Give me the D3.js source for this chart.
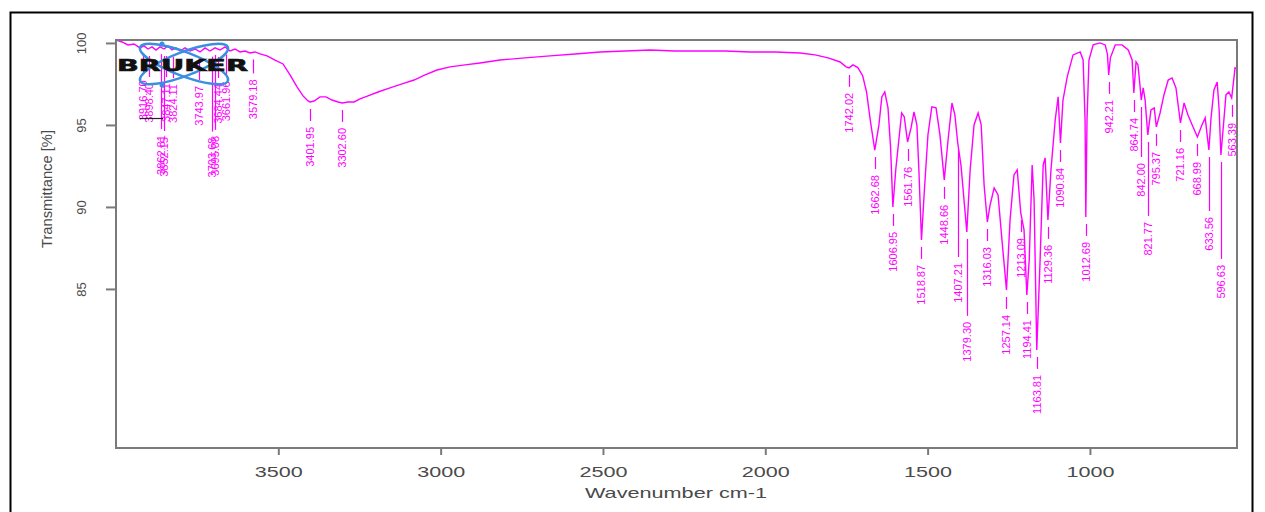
<!DOCTYPE html>
<html>
<head>
<meta charset="utf-8">
<script src="https://cdn.jsdelivr.net/npm/d3@7"></script>
<style>
  body { margin: 0; background: #fff; }
  svg { display: block; font-family: "Liberation Sans", Arial, sans-serif; }
</style>
</head>
<body>
<div id="chart"></div>
<script>
// IR spectrum: wavenumber (cm-1) and transmittance (%)
const wavenumber = [
  4000, 3981.5, 3963, 3944.5, 3926.1, 3913.7, 3901.4, 3889.1, 3876.8, 3864.4, 3852.1, 3839.8,
  3827.5, 3815.2, 3802.8, 3787.4, 3772, 3756.6, 3741.2, 3725.8, 3710.4, 3695, 3679.6, 3664.2,
  3648.8, 3633.4, 3618, 3602.6, 3587.2, 3571.8, 3556.4, 3534.8, 3510.2, 3485.5, 3464, 3442.4,
  3423.9, 3408.5, 3402, 3390, 3371.5, 3353, 3334.6, 3316.1, 3302.6, 3285.3, 3266.8, 3248.3,
  3223.7, 3192.9, 3156, 3118.9, 3081.9, 3048.1, 3011.1, 2971, 2924.8, 2878.6, 2817, 2740,
  2663, 2585.9, 2508.9, 2431.9, 2354.9, 2277.9, 2200.9, 2123.9, 2046.8, 1969.8, 1892.8, 1846.6,
  1806.6, 1769.6, 1751.1, 1742, 1730, 1715, 1700, 1688, 1676, 1662.7, 1650, 1641,
  1632, 1622, 1614, 1607, 1598, 1580, 1572, 1561.8, 1551, 1542, 1533, 1527,
  1518.9, 1510, 1499, 1487, 1474, 1462, 1448.7, 1437, 1425, 1416, 1407.2, 1397,
  1379.3, 1369, 1357, 1344.5, 1335, 1326, 1316, 1307.5, 1295, 1283, 1271, 1257.1,
  1246, 1234, 1224, 1213.1, 1203, 1194.4, 1187, 1178, 1172, 1163.8, 1153.5, 1144,
  1138, 1129.4, 1120, 1107, 1098, 1090.8, 1083, 1070, 1052, 1030, 1021, 1015,
  1012.7, 1009, 1003, 990, 969, 953, 946, 942.2, 937, 922, 901, 882,
  870, 864.7, 858, 852, 846, 842, 836, 830, 821.8, 812, 802, 795.4,
  784, 772, 759, 747, 735, 721.2, 710, 698, 685, 669, 655, 645,
  633.6, 627, 618, 608, 602, 596.6, 590, 581, 572, 563.4, 553, 547
];
const transmittance = [
  100.18, 100.06, 99.88, 99.94, 99.7, 99.82, 99.63, 99.76, 99.57, 99.76, 99.63, 99.82,
  99.57, 99.7, 99.51, 99.7, 99.51, 99.63, 99.45, 99.7, 99.51, 99.7, 99.57, 99.76,
  99.51, 99.63, 99.45, 99.51, 99.39, 99.45, 99.33, 99.21, 98.96, 98.72, 98.05, 97.32,
  96.77, 96.46, 96.4, 96.46, 96.71, 96.71, 96.52, 96.4, 96.34, 96.4, 96.4, 96.59,
  96.77, 97.01, 97.26, 97.5, 97.74, 98.05, 98.35, 98.54, 98.66, 98.78, 98.96, 99.09,
  99.21, 99.33, 99.45, 99.51, 99.57, 99.51, 99.51, 99.51, 99.45, 99.45, 99.39, 99.27,
  99.09, 98.84, 98.54, 98.48, 98.66, 98.5, 98.0, 97.0, 95.2, 93.47, 95.0, 96.71,
  97.01, 96.04, 93.6, 90.0, 92.3, 95.73, 95.5, 93.96, 94.82, 95.79, 95.0, 92.3,
  87.99, 91.0, 94.39, 96.1, 96.04, 94.39, 91.65, 94.08, 96.34, 95.61, 93.9, 92.5,
  88.48, 92.26, 95.0, 95.73, 95.0, 91.34, 89.08, 90.12, 91.16, 90.73, 87.99, 84.94,
  89.21, 91.95, 92.26, 89.63, 88.6, 84.63, 86.77, 92.56, 90.43, 81.28, 86.77, 92.56,
  92.99, 89.21, 92.26, 95.3, 96.71, 93.9, 96.52, 97.93, 99.27, 99.45, 98.96, 95.3,
  89.39, 95.3, 98.96, 99.88, 100.0, 99.88, 99.3, 98.05, 99.09, 99.88, 99.88, 99.57,
  98.96, 96.95, 98.84, 98.66, 97.44, 96.52, 97.26, 96.52, 94.39, 95.91, 96.04, 94.88,
  95.73, 96.83, 97.74, 97.87, 97.26, 95.12, 96.34, 95.61, 95.0, 94.27, 95.0, 95.43,
  93.47, 95.43, 97.13, 97.62, 95.91, 93.17, 94.69, 96.83, 97.01, 96.65, 98.48, 98.42
];

// peak picks printed on the spectrum
const peakWavenumbers = [
  3916.70, 3898.40, 3862.81, 3852.15, 3847.11, 3824.11, 3743.97, 3703.68, 3695.08, 3684.44,
  3661.96, 3579.18, 3401.95, 3302.60, 1742.02, 1662.68, 1606.95, 1561.76, 1518.87, 1448.66,
  1407.21, 1379.30, 1316.03, 1257.14, 1213.09, 1194.41, 1163.81, 1129.36, 1090.84, 1012.69,
  942.21, 864.74, 842.00, 821.77, 795.37, 721.16, 668.99, 633.56, 596.63, 563.39
];

const xTicks = [3500, 3000, 2500, 2000, 1500, 1000];
const yTicks = [85, 90, 95, 100];

// layout only: how far (px) a crowded peak label is pushed down its leader line
const labelDrop = {
  '3916.70': 9, '3898.40': 9, '3847.11': 9, '3824.11': 9, '3743.97': 9, '3684.44': 9,
  '3661.96': 9, '3579.18': 2,
  '3862.81': 63, '3852.15': 63, '3703.68': 63, '3695.08': 63,
  '1407.21': 95, '1379.30': 65, '842.00': 38, '821.77': 62, '633.56': 42, '596.63': 85
};

const w = 1265, h = 512;
const plotLeft = 116, plotRight = 1237, plotTop = 40, plotBottom = 448;
const magenta = '#ff00ff';

const svg = d3.select('#chart').append('svg')
  .attr('width', w)
  .attr('height', h);

// outer frame of the pasted figure
svg.append('rect')
  .attr('x', 10.5).attr('y', 12.5)
  .attr('width', 1242).attr('height', 520)
  .attr('fill', 'none')
  .attr('stroke', '#000')
  .attr('stroke-width', 2);

const x = d3.scaleLinear().domain([4000, 547]).range([plotLeft, plotRight]);
const y = d3.scaleLinear().domain([100.18, 75.3]).range([plotTop, plotBottom]);

const spectrum = wavenumber.map((wn, i) => ({wn: wn, t: transmittance[i]}));

svg.append('clipPath').attr('id', 'plotclip')
  .append('rect')
  .attr('x', plotLeft).attr('y', plotTop - 2)
  .attr('width', plotRight - plotLeft).attr('height', plotBottom - plotTop + 2);

// spectrum
const line = d3.line().x(d => x(d.wn)).y(d => y(d.t));
svg.append('path')
  .datum(spectrum)
  .attr('clip-path', 'url(#plotclip)')
  .attr('d', line)
  .attr('fill', 'none')
  .attr('stroke', magenta)
  .attr('stroke-width', 1.4);

// peak labels
function troughAt(wn) {
  const near = spectrum.filter(d => Math.abs(d.wn - wn) < 5);
  const i = d3.bisector(d => -d.wn).left(spectrum, -wn);
  const a = spectrum[Math.max(0, i - 1)], b = spectrum[Math.min(spectrum.length - 1, i)];
  const k = a.wn === b.wn ? 0 : (a.wn - wn) / (a.wn - b.wn);
  const interp = a.t + (b.t - a.t) * k;
  return d3.min([interp].concat(near.map(d => d.t)));
}

const peaks = svg.append('g').attr('fill', magenta).attr('stroke', magenta);
peakWavenumbers.forEach(wn => {
  const label = wn.toFixed(2);
  const px = Math.round(x(wn)) + 0.5;
  const py = y(troughAt(wn));
  const textTop = py + 25 + (labelDrop[label] || 0);
  peaks.append('line')
    .attr('x1', px).attr('x2', px)
    .attr('y1', py + 7).attr('y2', textTop - 6)
    .attr('stroke-width', 1.2);
  peaks.append('text')
    .attr('transform', `translate(${px},${textTop}) rotate(-90)`)
    .attr('text-anchor', 'end')
    .attr('dy', '0.36em')
    .attr('stroke', 'none')
    .style('font-size', '11px')
    .text(label);
});

// Bruker logo sitting over the top left of the plot
const logo = svg.append('g');
[-21, 21].forEach(a => {
  logo.append('ellipse')
    .attr('cx', 0).attr('cy', 0)
    .attr('rx', 47).attr('ry', 12)
    .attr('fill', 'none')
    .attr('stroke', '#3a8fe0')
    .attr('stroke-width', 2.5)
    .attr('transform', `translate(184,64) rotate(${a})`);
});
[[162, 44], [162, 85]].forEach(p => {
  logo.append('circle').attr('cx', p[0]).attr('cy', p[1]).attr('r', 2.5).attr('fill', '#3a8fe0');
});
logo.append('text')
  .attr('x', 117).attr('y', 71)
  .attr('textLength', 131)
  .attr('lengthAdjust', 'spacingAndGlyphs')
  .style('font-family', '"DejaVu Sans", sans-serif')
  .style('font-weight', '900')
  .style('font-size', '15px')
  .attr('fill', '#111')
  .attr('stroke', '#111')
  .attr('stroke-width', 0.6)
  .text('BRUKER');
logo.append('line')
  .attr('x1', 140).attr('x2', 163).attr('y1', 118.5).attr('y2', 118.5)
  .attr('stroke', '#222').attr('stroke-width', 1.2);

// axes
const axisColor = '#7a7a7a';
const textColor = '#4a4a4a';

const xAxis = svg.append('g')
  .attr('transform', `translate(0,${plotBottom})`)
  .call(d3.axisBottom(x).tickValues(xTicks).tickFormat(d3.format('d')).tickSize(7).tickSizeOuter(0));
xAxis.select('.domain').remove();
xAxis.selectAll('line').attr('stroke', axisColor).attr('stroke-width', 2);
xAxis.selectAll('text')
  .attr('y', 29).attr('dy', null)
  .attr('fill', textColor)
  .attr('textLength', 48)
  .attr('lengthAdjust', 'spacingAndGlyphs')
  .style('font-size', '15px')
  .style('font-family', '"Liberation Sans", Arial, sans-serif');

const yAxis = svg.append('g')
  .attr('transform', `translate(${plotLeft},0)`)
  .call(d3.axisLeft(y).tickValues(yTicks).tickSize(10).tickSizeOuter(0));
yAxis.select('.domain').remove();
yAxis.selectAll('line').attr('stroke', axisColor).attr('stroke-width', 2);
yAxis.selectAll('text')
  .attr('x', null).attr('dy', '0.36em')
  .attr('transform', 'translate(-35,0) rotate(-90)')
  .attr('text-anchor', 'middle')
  .attr('fill', textColor)
  .style('font-size', '13px')
  .style('font-family', '"Liberation Sans", Arial, sans-serif');

// plot box
svg.append('rect')
  .attr('x', plotLeft).attr('y', plotTop)
  .attr('width', plotRight - plotLeft).attr('height', plotBottom - plotTop)
  .attr('fill', 'none')
  .attr('stroke', axisColor)
  .attr('stroke-width', 2);

// axis titles
svg.append('text')
  .attr('x', 585).attr('y', 498)
  .attr('textLength', 182)
  .attr('lengthAdjust', 'spacingAndGlyphs')
  .attr('fill', textColor)
  .style('font-size', '15px')
  .text('Wavenumber cm-1');

svg.append('text')
  .attr('transform', 'translate(47,189) rotate(-90)')
  .attr('text-anchor', 'middle')
  .attr('dy', '0.36em')
  .attr('textLength', 118)
  .attr('lengthAdjust', 'spacingAndGlyphs')
  .attr('fill', textColor)
  .style('font-size', '15px')
  .text('Transmittance [%]');
</script>
</body>
</html>
